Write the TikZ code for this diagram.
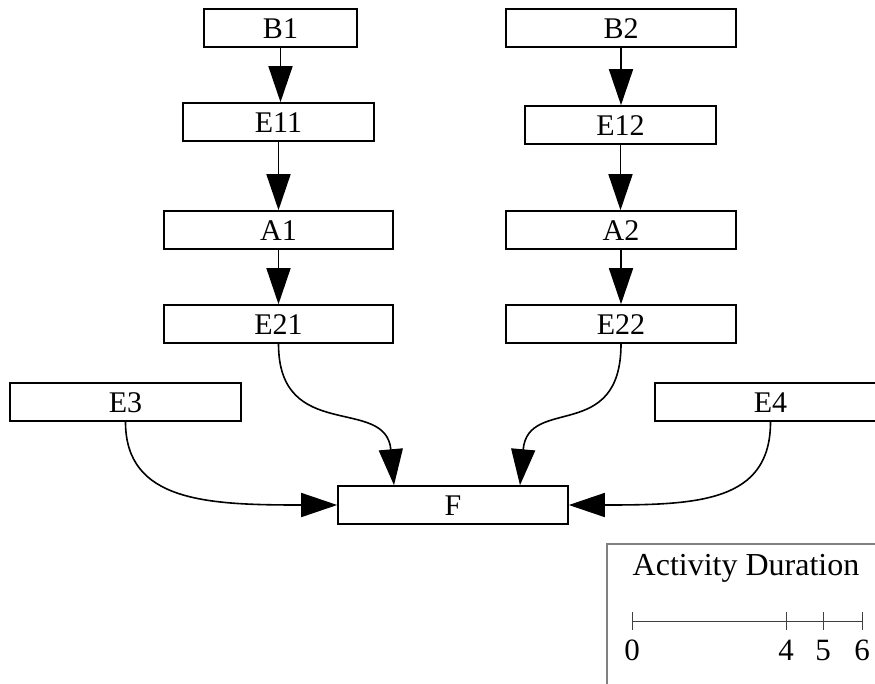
\documentclass[tikz,border=0pt]{standalone}
\usepackage{fontspec}
\setmainfont{Liberation Serif}
\usetikzlibrary{positioning, arrows.meta}

\begin{document}
\begin{tikzpicture}[x=1pt, y=-1pt,
    task/.style={draw, line width=1.6pt, minimum height=38pt, inner sep=0pt,
                 text height=20pt, text depth=0pt,
                 font=\fontsize{30}{36}\selectfont},
    flow/.style={-{Triangle[length=36pt, width=24pt]}, line width=1.6pt}]
  \useasboundingbox (0,0) rectangle (875,683);
  \clip (0,0) rectangle (875,683);

  % left chain
  \node[task, minimum width=153pt] (b1)  at (280.5,28)  {B1};
  \node[task, minimum width=191pt] (e11) at (278.5,122) {E11};
  \node[task, minimum width=229pt] (a1)  at (278.5,230) {A1};
  \node[task, minimum width=229pt] (e21) at (278.5,324) {E21};

  % right chain
  \node[task, minimum width=230pt] (b2)  at (621,28)    {B2};
  \node[task, minimum width=191pt] (e12) at (620.5,125) {E12};
  \node[task, minimum width=230pt] (a2)  at (621,230)   {A2};
  \node[task, minimum width=230pt] (e22) at (621,324)   {E22};

  \node[task, minimum width=231pt] (e3) at (125.5,402) {E3};
  \node[task, minimum width=231pt] (e4) at (770.5,402) {E4};
  \node[task, minimum width=230pt] (f)  at (453,505)   {F};

  \draw[flow] (b1.south)  -- (b1.south |- e11.north);
  \draw[flow] (e11.south) -- (e11.south |- a1.north);
  \draw[flow] (a1.south)  -- (a1.south |- e21.north);
  \draw[flow] (b2.south)  -- (b2.south |- e12.north);
  \draw[flow] (e12.south) -- (e12.south |- a2.north);
  \draw[flow] (a2.south)  -- (a2.south |- e22.north);

  % joins into F
  \draw[flow] (e21.south) .. controls +(0,100) and +(-8,-90) .. ([xshift=-59pt]f.north);
  \draw[flow] (e22.south) .. controls +(0,100) and +(8,-90) .. ([xshift=67pt]f.north);
  \draw[flow] (e3.south) .. controls +(0,80) and +(-130,0) .. (f.west);
  \draw[flow] (e4.south) .. controls +(0,80) and +(130,0) .. (f.east);

  % duration legend
  \draw[gray, line width=1.2pt] (607,700) |- (900,544);
  \node[font=\fontsize{32}{38}\selectfont, anchor=base] (legend) at (746,575) {Activity Duration};
  \draw[darkgray, line width=1pt] (632,621) -- (862,621);
  \foreach \x/\t in {632/0, 786/4, 823/5, 862/6} {
    \draw[darkgray, line width=1pt] (\x,612) -- (\x,630);
    \node[font=\fontsize{31}{36}\selectfont, anchor=base] (tick\t) at (\x,660) {\t};
  }
\end{tikzpicture}
\end{document}
